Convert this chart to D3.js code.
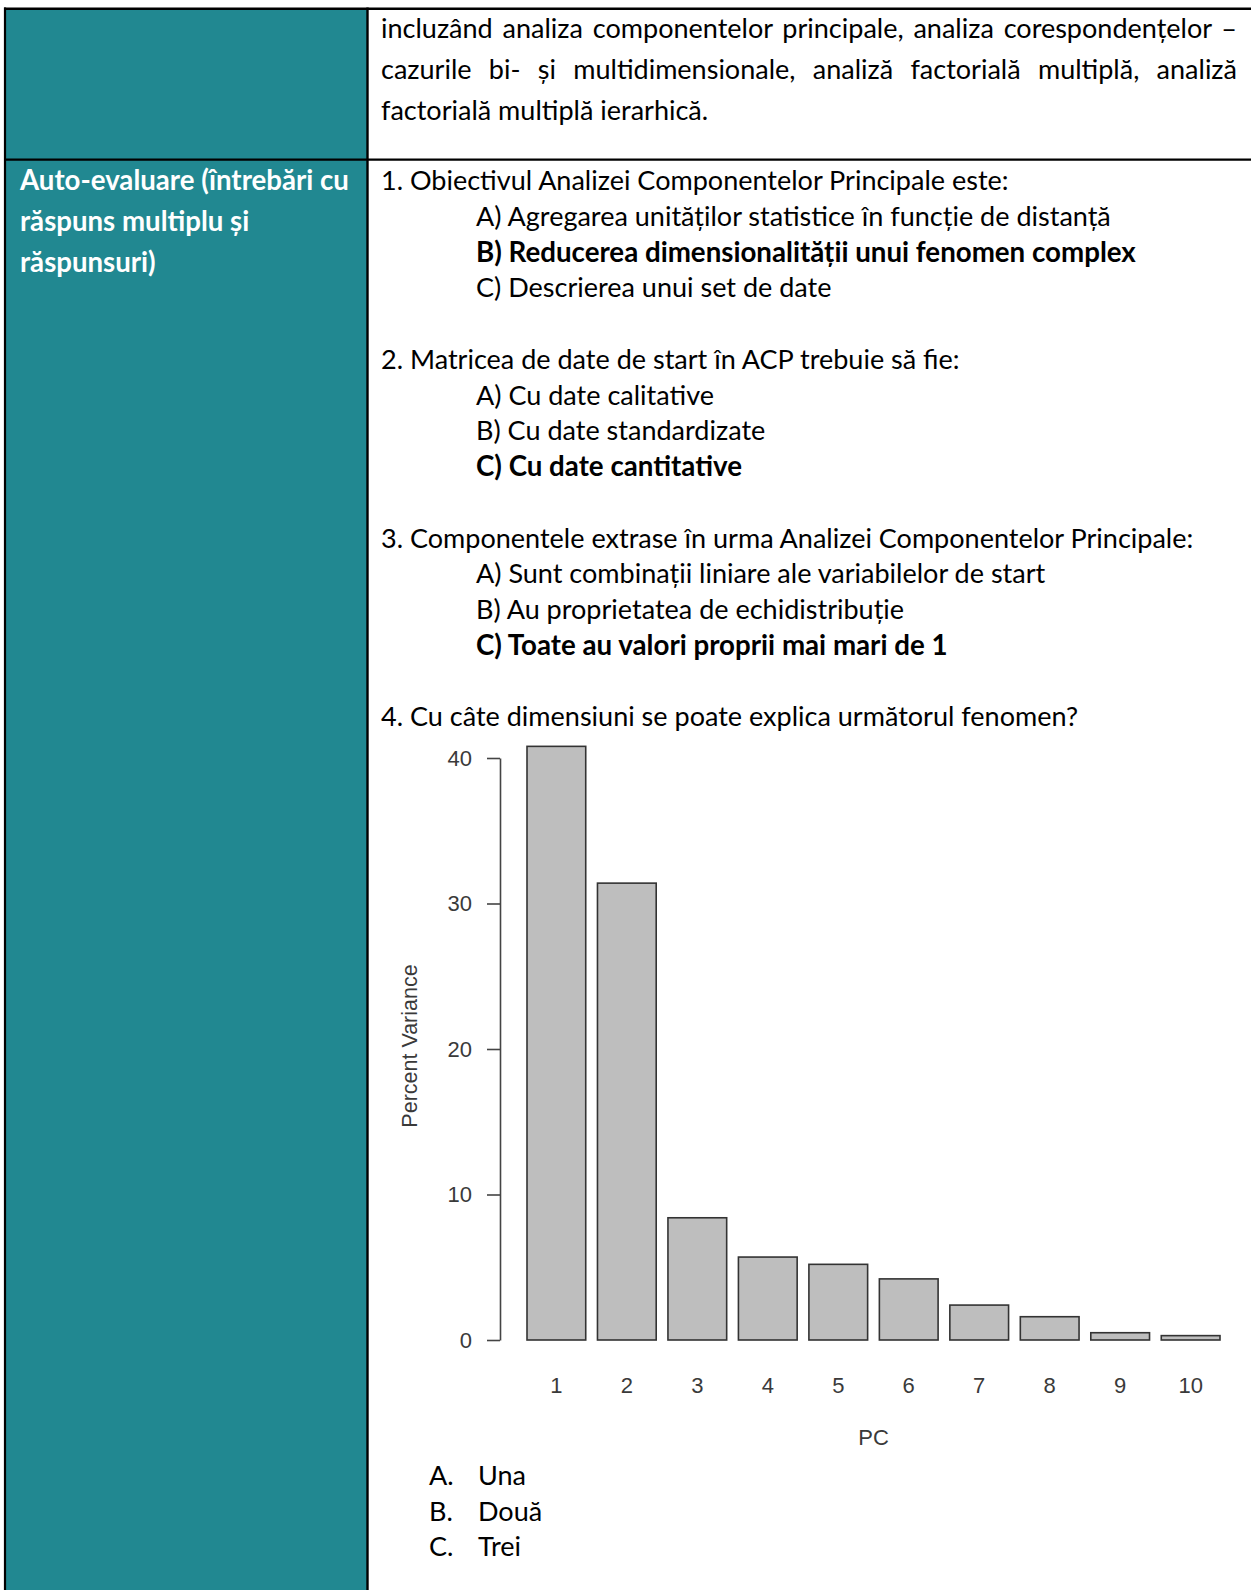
<!DOCTYPE html>
<html>
<head>
<meta charset="utf-8">
<script src="https://cdn.jsdelivr.net/npm/d3@7"></script>
<style>
  body { margin: 0; background: #fff; }
</style>
</head>
<body>
<div id="page"></div>
<script>
// scree plot values (percent of variance per principal component)
const components = ["1", "2", "3", "4", "5", "6", "7", "8", "9", "10"];
const percentVariance = [40.8, 31.4, 8.4, 5.7, 5.2, 4.2, 2.4, 1.6, 0.5, 0.3];
const yTicks = [0, 10, 20, 30, 40];

const sideLabel = ["Auto-evaluare (întrebări cu", "răspuns multiplu și", "răspunsuri)"];
const introLines = [
  "incluzând analiza componentelor principale, analiza corespondențelor –",
  "cazurile bi- și multidimensionale, analiză factorială multiplă, analiză",
  "factorială multiplă ierarhică."
];
const questions = [
  { q: "1. Obiectivul Analizei Componentelor Principale este:",
    options: ["A) Agregarea unităților statistice în funcție de distanță",
              "B) Reducerea dimensionalității unui fenomen complex",
              "C) Descrierea unui set de date"], correct: 1 },
  { q: "2. Matricea de date de start în ACP trebuie să fie:",
    options: ["A) Cu date calitative", "B) Cu date standardizate", "C) Cu date cantitative"], correct: 2 },
  { q: "3. Componentele extrase în urma Analizei Componentelor Principale:",
    options: ["A) Sunt combinații liniare ale variabilelor de start",
              "B) Au proprietatea de echidistribuție",
              "C) Toate au valori proprii mai mari de 1"], correct: 2 },
  { q: "4. Cu câte dimensiuni se poate explica următorul fenomen?", options: [], correct: -1 }
];
const answerLetters = ["A.", "B.", "C."];
const answerTexts = ["Una", "Două", "Trei"];

const W = 1251, H = 1590
const TEAL = "#218891"
const FONT = "Lato, 'Noto Sans', sans-serif"
const CHART_FONT = "'Liberation Sans', Arial, sans-serif"

const svg = d3.select("#page").append("svg")
  .attr("width", W)
  .attr("height", H)

// measure helper, used to fit font sizes to the reference line widths
function textWidth(str, size, weight) {
  const t = svg.append("text").attr("font-family", FONT)
    .attr("font-size", size).attr("font-weight", weight).text(str)
  const w = t.node().getComputedTextLength()
  t.remove()
  return w
}
const bodySize = 100 * 628 / textWidth(questions[0].q, 100, 400)
const boldSize = 100 * 660 / textWidth(questions[0].options[1], 100, 700)
const sideSize = 100 * 329 / textWidth(sideLabel[0], 100, 700)

// table background and borders
const COL_X = 367.5
svg.append("rect").attr("x", 5).attr("y", 8).attr("width", COL_X - 5).attr("height", H - 8).attr("fill", TEAL)
svg.append("line").attr("x1", 4).attr("x2", W).attr("y1", 8.7).attr("y2", 8.7).attr("stroke", "#000").attr("stroke-width", 2.6)
svg.append("line").attr("x1", 4).attr("x2", W).attr("y1", 159.7).attr("y2", 159.7).attr("stroke", "#000").attr("stroke-width", 2.2)
svg.append("line").attr("x1", 5).attr("x2", 5).attr("y1", 7.5).attr("y2", H).attr("stroke", "#000").attr("stroke-width", 2.2)
svg.append("line").attr("x1", COL_X).attr("x2", COL_X).attr("y1", 7.5).attr("y2", H).attr("stroke", "#000").attr("stroke-width", 2.4)

// left column heading
svg.selectAll(".side")
  .data(sideLabel)
  .enter().append("text")
  .attr("x", 20)
  .attr("y", (d, i) => 190 + i * 41)
  .attr("font-family", FONT).attr("font-weight", 700).attr("font-size", sideSize)
  .attr("fill", "#fff")
  .text(d => d)

// first row, justified paragraph
const TEXT_X = 381, TEXT_R = 1237
svg.selectAll(".intro")
  .data(introLines)
  .enter().append("text")
  .attr("x", TEXT_X)
  .attr("y", (d, i) => 38 + i * 41)
  .attr("font-family", FONT).attr("font-size", bodySize).attr("fill", "#000")
  .attr("word-spacing", (d, i) => {
    if (i == introLines.length - 1) return 0
    const gaps = d.split(" ").length - 1
    return (TEXT_R - TEXT_X - textWidth(d, bodySize, 400)) / gaps
  })
  .text(d => d)

// second row, questions
const LINE = 35.75
const rows = []
questions.forEach(q => {
  rows.push({ text: q.q, indent: false, bold: false })
  q.options.forEach((o, j) => rows.push({ text: o, indent: true, bold: j == q.correct }))
  if (q.options.length) rows.push(null)
})
const qLines = rows.map((r, i) => r && Object.assign({ y: 190 + i * LINE }, r)).filter(r => r)

svg.selectAll(".qline")
  .data(qLines)
  .enter().append("text")
  .attr("x", d => d.indent ? 476 : TEXT_X)
  .attr("y", d => d.y)
  .attr("font-family", FONT)
  .attr("font-weight", d => d.bold ? 700 : 400)
  .attr("font-size", d => d.bold ? boldSize : bodySize)
  .attr("fill", "#000")
  .text(d => d.text)

// scree plot
const x = d3.scaleBand()
  .domain(components)
  .range([527, 1220])
  .paddingInner(0.2 / 1.2)
  .paddingOuter(0)

const y = d3.scaleLinear()
  .domain([0, 40])
  .range([1340, 758])

const yAxis = svg.append("g")
  .attr("transform", "translate(500,0)")
  .call(d3.axisLeft(y).tickValues(yTicks).tickSize(13).tickSizeOuter(0).tickPadding(15))
yAxis.select(".domain").attr("stroke", "#444").attr("stroke-width", 1.6)
yAxis.selectAll(".tick line").attr("stroke", "#444").attr("stroke-width", 1.6)
yAxis.selectAll(".tick text").attr("font-family", CHART_FONT).attr("font-size", 22).attr("fill", "#3a3a3a")

const xAxis = svg.append("g")
  .attr("transform", "translate(0,1340)")
  .call(d3.axisBottom(x).tickSize(0).tickPadding(37))
xAxis.select(".domain").remove()
xAxis.selectAll(".tick text").attr("font-family", CHART_FONT).attr("font-size", 22).attr("fill", "#3a3a3a")

svg.selectAll(".bar")
  .data(percentVariance)
  .enter().append("rect")
  .attr("x", (d, i) => x(components[i]))
  .attr("y", d => y(d))
  .attr("width", x.bandwidth())
  .attr("height", d => y(0) - y(d))
  .attr("fill", "#bebebe")
  .attr("stroke", "#333")
  .attr("stroke-width", 1.6)

svg.append("text")
  .attr("x", (x.range()[0] + x.range()[1]) / 2)
  .attr("y", 1445)
  .attr("text-anchor", "middle")
  .attr("font-family", CHART_FONT).attr("font-size", 22).attr("fill", "#3a3a3a")
  .text("PC")

svg.append("text")
  .attr("transform", "translate(417,1046) rotate(-90)")
  .attr("text-anchor", "middle")
  .attr("font-family", CHART_FONT).attr("font-size", 21.5).attr("fill", "#3a3a3a")
  .text("Percent Variance")

// answer choices below the plot
const answers = svg.selectAll(".answer")
  .data(answerTexts)
  .enter().append("g")
  .attr("transform", (d, i) => `translate(0,${1485 + i * 35.6})`)
answers.append("text")
  .attr("x", 429)
  .attr("font-family", FONT).attr("font-size", bodySize).attr("fill", "#000")
  .text((d, i) => answerLetters[i])
answers.append("text")
  .attr("x", 478)
  .attr("font-family", FONT).attr("font-size", bodySize).attr("fill", "#000")
  .text(d => d)
</script>
</body>
</html>
